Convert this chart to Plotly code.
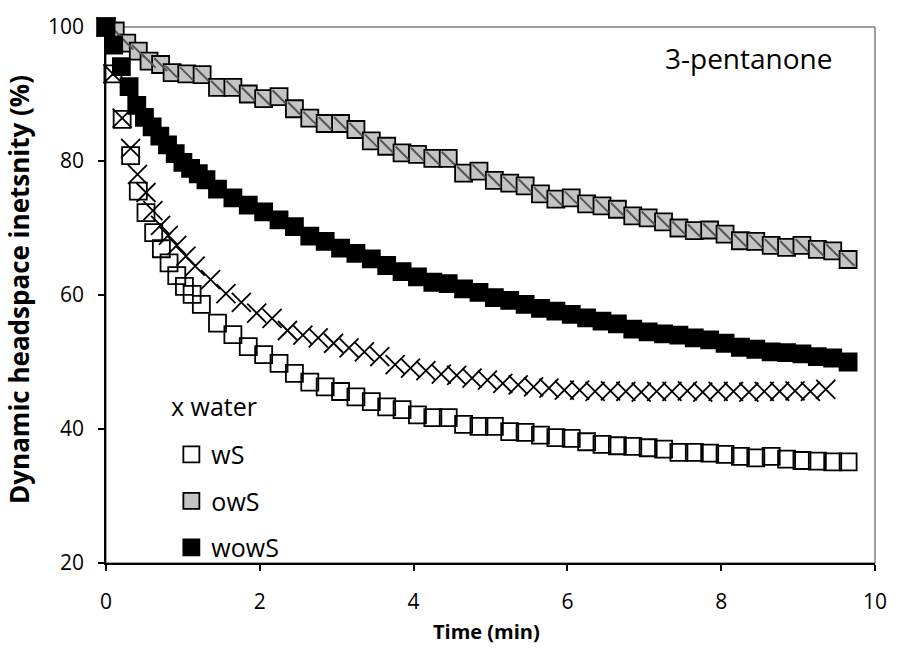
import plotly.graph_objects as go

# Dynamic headspace release of 3-pentanone, intensity (%) vs time (min)
t_water = [0, 0.09, 0.21, 0.32, 0.41, 0.52, 0.61, 0.71, 0.81, 0.92, 1.04,
           1.16, 1.36, 1.56, 1.76, 1.96, 2.16, 2.36, 2.56, 2.76, 2.96, 3.16,
           3.36, 3.56, 3.76, 3.96, 4.16, 4.36, 4.56, 4.76, 4.96, 5.16, 5.36,
           5.56, 5.76, 5.96, 6.16, 6.36, 6.56, 6.76, 6.96, 7.16, 7.36, 7.56,
           7.76, 7.96, 8.16, 8.36, 8.56, 8.76, 8.96, 9.16, 9.36]
v_water = [100, 93.0, 86.4, 81.9, 78.0, 75.3, 72.6, 70.4, 68.9, 67.4, 65.8,
           64.3, 62.3, 60.2, 58.9, 57.3, 56.5, 54.7, 54.0, 53.6, 52.8, 52.1,
           51.5, 50.8, 49.6, 49.1, 48.7, 48.2, 48.0, 47.6, 47.3, 46.8, 46.6,
           46.3, 46.1, 45.8, 45.8, 45.6, 45.7, 45.6, 45.5, 45.6, 45.6, 45.7,
           45.5, 45.6, 45.6, 45.5, 45.6, 45.6, 45.7, 45.6, 45.9]

t_ws = [0, 0.09, 0.21, 0.32, 0.42, 0.52, 0.62, 0.72, 0.82, 0.92, 1.02, 1.12,
        1.24, 1.45, 1.65, 1.85, 2.05, 2.25, 2.45, 2.65, 2.85, 3.05, 3.25,
        3.45, 3.65, 3.85, 4.05, 4.25, 4.45, 4.65, 4.85, 5.05, 5.25, 5.45,
        5.65, 5.85, 6.05, 6.25, 6.45, 6.65, 6.85, 7.05, 7.25, 7.45, 7.65,
        7.85, 8.05, 8.25, 8.45, 8.65, 8.85, 9.05, 9.25, 9.45, 9.65]
v_ws = [100, 93.0, 86.2, 80.8, 75.5, 72.3, 69.3, 66.9, 64.8, 62.9, 61.3, 60.1,
        58.6, 55.8, 54.1, 52.3, 51.1, 49.8, 48.3, 47.0, 46.3, 45.6, 44.8,
        44.1, 43.3, 42.9, 42.1, 41.7, 41.7, 40.7, 40.4, 40.4, 39.6, 39.5,
        39.1, 38.7, 38.6, 38.1, 37.7, 37.5, 37.4, 37.2, 37.0, 36.5, 36.5,
        36.4, 36.2, 35.9, 35.7, 35.9, 35.5, 35.3, 35.2, 35.1, 35.1]

t_ows = [0, 0.12, 0.27, 0.42, 0.56, 0.71, 0.86, 1.05, 1.25, 1.45, 1.65, 1.85,
         2.05, 2.25, 2.45, 2.65, 2.85, 3.05, 3.25, 3.45, 3.65, 3.85, 4.05,
         4.25, 4.45, 4.65, 4.85, 5.05, 5.25, 5.45, 5.65, 5.85, 6.05, 6.25,
         6.45, 6.65, 6.85, 7.05, 7.25, 7.45, 7.65, 7.85, 8.05, 8.25, 8.45,
         8.65, 8.85, 9.05, 9.25, 9.45, 9.65]
v_ows = [100, 99.4, 97.6, 96.4, 94.9, 94.4, 93.2, 93.0, 92.9, 91.0, 91.0, 90.0,
         89.3, 89.6, 87.8, 86.4, 85.6, 85.6, 84.7, 83.0, 82.2, 81.2, 81.0,
         80.4, 80.4, 78.2, 78.5, 77.1, 76.7, 76.3, 75.1, 74.3, 74.5, 73.6,
         73.3, 72.8, 71.8, 71.5, 70.9, 70.0, 69.6, 69.7, 69.1, 68.1, 68.0,
         67.4, 67.1, 67.4, 66.8, 66.6, 65.3]

t_wows = [0, 0.1, 0.2, 0.3, 0.4, 0.5, 0.6, 0.7, 0.8, 0.9, 1.0, 1.1, 1.2, 1.3,
          1.45, 1.65, 1.85, 2.05, 2.25, 2.45, 2.65, 2.85, 3.05, 3.25, 3.45,
          3.65, 3.85, 4.05, 4.25, 4.45, 4.65, 4.85, 5.05, 5.25, 5.45, 5.65,
          5.85, 6.05, 6.25, 6.45, 6.65, 6.85, 7.05, 7.25, 7.45, 7.65, 7.85,
          8.05, 8.25, 8.45, 8.65, 8.85, 9.05, 9.25, 9.45, 9.65]
v_wows = [100, 97.3, 94.1, 91.1, 88.3, 86.5, 85.1, 83.7, 82.4, 81.1, 79.8,
          78.9, 78.1, 77.2, 75.8, 74.5, 73.4, 72.4, 71.2, 70.2, 68.8, 68.0,
          67.0, 66.2, 65.4, 64.4, 63.5, 62.7, 61.9, 61.7, 60.9, 60.4, 59.6,
          59.2, 58.6, 58.0, 57.6, 57.1, 56.6, 56.1, 55.7, 54.9, 54.5, 54.2,
          54.0, 53.6, 53.3, 52.8, 52.2, 51.9, 51.5, 51.4, 51.2, 50.8, 50.6,
          50.0]

x_ticks = [0, 2, 4, 6, 8, 10]
y_ticks = [20, 40, 60, 80, 100]

FONT = "Open Sans"
SQ = 17

fig = go.Figure()

fig.add_trace(go.Scatter(
    x=t_water, y=v_water, mode="markers", name="water", showlegend=False,
    cliponaxis=False,
    marker=dict(symbol="x-thin", size=19, color="black",
                line=dict(width=1.8, color="black")),
))
fig.add_trace(go.Scatter(
    x=t_ws, y=v_ws, mode="markers", name="wS", legendgroup="a",
    cliponaxis=False,
    marker=dict(symbol="square-open", size=SQ, color="black",
                line=dict(width=1.8, color="black")),
))
fig.add_trace(go.Scatter(
    x=t_ows, y=v_ows, mode="markers", name="owS", legendgroup="b",
    cliponaxis=False,
    marker=dict(symbol="square", size=SQ, color="#c4c4c4",
                line=dict(width=1.8, color="black")),
))
# diagonal hatch stroke inside each owS square
fig.add_trace(go.Scatter(
    x=t_ows, y=v_ows, mode="markers", name="owS", legendgroup="b",
    showlegend=False, cliponaxis=False, hoverinfo="skip",
    marker=dict(symbol="line-nw", size=13, color="#555555",
                line=dict(width=2, color="#555555")),
))
fig.add_trace(go.Scatter(
    x=t_wows, y=v_wows, mode="markers", name="wowS", legendgroup="c",
    cliponaxis=False,
    marker=dict(symbol="square", size=SQ, color="black",
                line=dict(width=1.8, color="black")),
))

fig.update_xaxes(
    range=[0, 10], tickvals=x_ticks, ticks="outside", ticklen=6,
    tickwidth=1.5, tickcolor="black", showline=True, linewidth=1.5,
    linecolor="black", showgrid=False, zeroline=False,
    tickfont=dict(family=FONT, size=21, color="black"),
    ticklabelstandoff=13,
)
fig.update_yaxes(
    range=[20, 100], tickvals=y_ticks, ticks="outside", ticklen=6,
    tickwidth=1.5, tickcolor="black", showline=True, linewidth=1.5,
    linecolor="black", showgrid=False, zeroline=False,
    tickfont=dict(family=FONT, size=21, color="black"),
    ticklabelstandoff=10,
)

# thin frame around the plotting area
fig.add_shape(type="rect", xref="paper", yref="paper", x0=0, y0=0, x1=1, y1=1,
              line=dict(color="#404040", width=1), layer="below")

fig.add_annotation(text="Time (min)", xref="paper", yref="paper",
                   x=0.495, y=-0.128, showarrow=False, xanchor="center",
                   yanchor="middle",
                   font=dict(family=FONT, size=20, color="black", weight="bold"))
fig.add_annotation(text="Dynamic headspace inetsnity (%)", xref="paper",
                   yref="paper", x=-0.114, y=0.51, textangle=-90,
                   showarrow=False, xanchor="center", yanchor="middle",
                   font=dict(family=FONT, size=26, color="black", weight="bold"))
fig.add_annotation(text="3-pentanone", xref="paper", yref="paper",
                   x=0.836, y=0.942, showarrow=False, xanchor="center",
                   yanchor="middle",
                   font=dict(family=FONT, size=28, color="black"))
fig.add_annotation(text="x water", xref="paper", yref="paper",
                   x=0.082, y=0.292, showarrow=False, xanchor="left",
                   yanchor="middle",
                   font=dict(family=FONT, size=25, color="black"))

fig.update_layout(
    width=899, height=655,
    margin=dict(l=106, r=16, t=25, b=92),
    plot_bgcolor="white", paper_bgcolor="white",
    showlegend=True,
    legend=dict(x=0.085, y=0.245, xanchor="left", yanchor="top",
                font=dict(family=FONT, size=25, color="black"),
                tracegroupgap=11, itemwidth=30, bgcolor="rgba(0,0,0,0)",
                traceorder="grouped"),
)

fig.write_html("out.html")
